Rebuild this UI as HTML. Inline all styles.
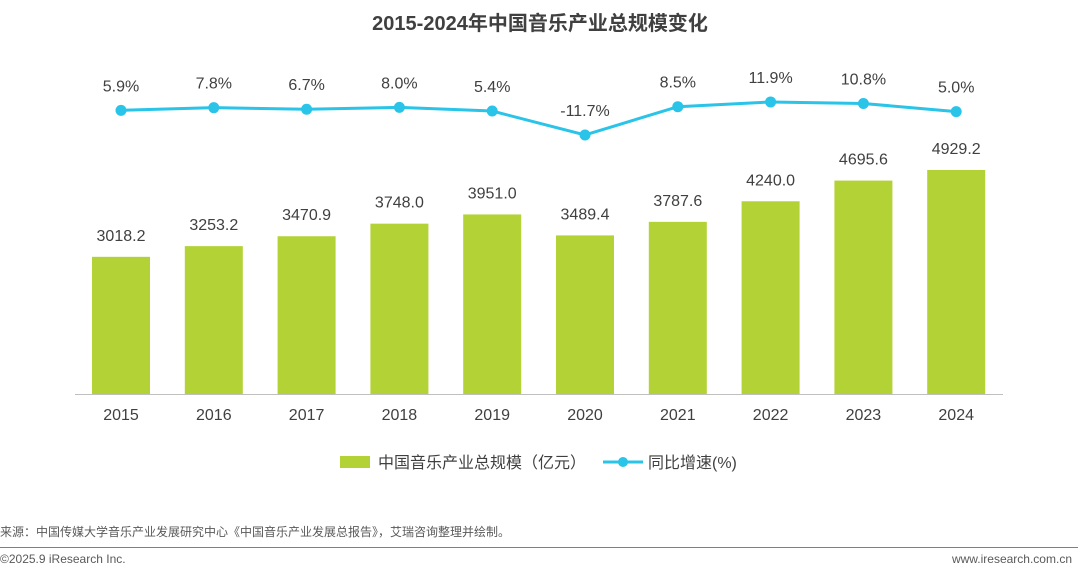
<!DOCTYPE html>
<html><head><meta charset="utf-8">
<style>
html,body{margin:0;padding:0;background:#fff;}
body{width:1080px;height:568px;overflow:hidden;position:relative;font-family:"Liberation Sans","Noto Sans CJK SC",sans-serif;}
</style></head>
<body>
<svg id="chart" width="1080" height="568" xmlns="http://www.w3.org/2000/svg" style="position:absolute;left:0;top:0">
<text x="540" y="30" text-anchor="middle" font-size="20" font-weight="bold" fill="#404040" font-family="Liberation Sans, Noto Sans CJK SC, sans-serif">2015-2024年中国音乐产业总规模变化</text>
<g id="bars"></g>
<g id="line"></g>
<line x1="75" y1="394.5" x2="1003" y2="394.5" stroke="#bfbfbf" stroke-width="1"/>
<g>
<rect x="340" y="456" width="30" height="12" fill="#b2d235"/>
<text x="378" y="468" font-size="16" fill="#404040">中国音乐产业总规模（亿元）</text>
<line x1="603" y1="462" x2="643" y2="462" stroke="#29c4e8" stroke-width="3"/>
<circle cx="623" cy="462" r="5" fill="#29c4e8"/>
<text x="648" y="468" font-size="16" fill="#404040">同比增速(%)</text>
</g>
<text x="0" y="536" font-size="12" fill="#595959">来源：中国传媒大学音乐产业发展研究中心《中国音乐产业发展总报告》，艾瑞咨询整理并绘制。</text>
<line x1="0" y1="547.5" x2="1078" y2="547.5" stroke="#808080" stroke-width="1"/>
<text x="0" y="563" font-size="12" fill="#595959">©2025.9 iResearch Inc.</text>
<text x="1072" y="563" text-anchor="end" font-size="12" fill="#595959">www.iresearch.com.cn</text>
</svg>
<script>
const years = ["2015","2016","2017","2018","2019","2020","2021","2022","2023","2024"];
const scaleValues = [3018.2,3253.2,3470.9,3748.0,3951.0,3489.4,3787.6,4240.0,4695.6,4929.2];
const growthValues = [5.9,7.8,6.7,8.0,5.4,-11.7,8.5,11.9,10.8,5.0];
const NS="http://www.w3.org/2000/svg";
function xPos(i){return 121+i*92.8;}
function yBar(v){return 394-v*0.04545;}
function yLine(p){return 118.6-p*1.4;}
const bars=document.getElementById('bars');
const lineG=document.getElementById('line');
function mk(tag,attrs,parent){const e=document.createElementNS(NS,tag);for(const k in attrs)e.setAttribute(k,attrs[k]);parent.appendChild(e);return e;}
years.forEach((y,i)=>{
  const top=yBar(scaleValues[i]);
  const r=mk('rect',{x:xPos(i)-29,y:top,width:58,height:394-top,fill:'#b2d235'},bars);
  
  
  const t=mk('text',{x:xPos(i),y:top-16,'text-anchor':'middle','font-size':16,fill:'#404040'},bars);
  t.textContent=scaleValues[i].toFixed(1);
  
  
  const xl=mk('text',{x:xPos(i),y:420,'text-anchor':'middle','font-size':16,fill:'#404040'},bars);
  xl.textContent=y;
  
  
});
const pts=growthValues.map((p,i)=>xPos(i)+','+yLine(p)).join(' ');
const pl=mk('polyline',{points:pts,fill:'none',stroke:'#29c4e8','stroke-width':3},lineG);


growthValues.forEach((p,i)=>{
  const c=mk('circle',{cx:xPos(i),cy:yLine(p),r:5.5,fill:'#29c4e8'},lineG);
  
  
  const t=mk('text',{x:xPos(i),y:yLine(p)-19,'text-anchor':'middle','font-size':16,fill:'#404040'},lineG);
  t.textContent=p.toFixed(1)+'%';
  
  
});
</script>
</body></html>
